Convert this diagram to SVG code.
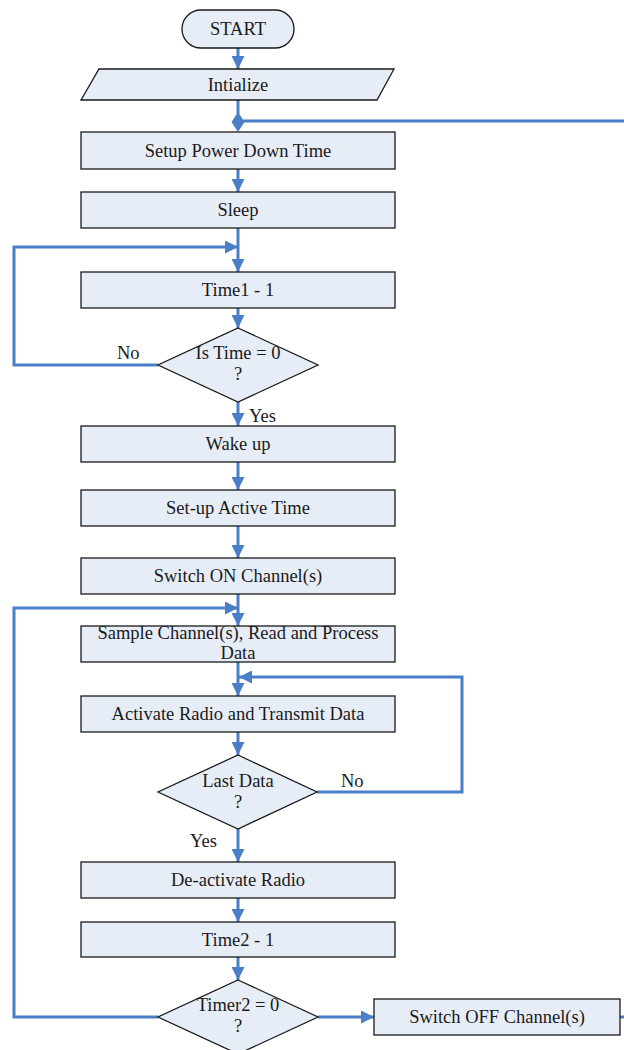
<svg xmlns="http://www.w3.org/2000/svg" width="624" height="1050" viewBox="0 0 624 1050">
<style>
.n{fill:#E7EDF7;stroke:#1a1a1a;stroke-width:1.3}
.t{font-family:"Liberation Serif","Times New Roman",serif;font-size:18.5px;fill:#1a1a1a;text-anchor:middle}
.l{font-family:"Liberation Serif","Times New Roman",serif;font-size:18.5px;fill:#1a1a1a}
.c{fill:none;stroke:#4A7EC7;stroke-width:3}
.h{fill:#4A7EC7}
</style>
<defs>
<marker id="a" markerUnits="userSpaceOnUse" markerWidth="13" markerHeight="13" refX="13" refY="6.5" orient="auto">
<path d="M0,0 L13,6.5 L0,13 z" class="h"/>
</marker>
</defs>
<rect width="624" height="1050" fill="#ffffff"/>
<g id="connectors">
<line class="c" x1="238" y1="48" x2="238" y2="69" marker-end="url(#a)"/>
<line class="c" x1="238" y1="100" x2="238" y2="114"/>
<polygon class="h" points="238,112 244.5,122 238,132 231.5,122"/>
<line class="c" x1="238" y1="121" x2="624" y2="121"/>
<line class="c" x1="238" y1="169" x2="238" y2="192" marker-end="url(#a)"/>
<line class="c" x1="238" y1="228" x2="238" y2="272" marker-end="url(#a)"/>
<polyline class="c" points="158,365 14,365 14,247 238,247" marker-end="url(#a)"/>
<line class="c" x1="238" y1="308" x2="238" y2="328" marker-end="url(#a)"/>
<line class="c" x1="238" y1="402" x2="238" y2="426" marker-end="url(#a)"/>
<line class="c" x1="238" y1="462" x2="238" y2="490" marker-end="url(#a)"/>
<line class="c" x1="238" y1="526" x2="238" y2="558" marker-end="url(#a)"/>
<line class="c" x1="238" y1="594" x2="238" y2="626" marker-end="url(#a)"/>
<polyline class="c" points="158,1017 14,1017 14,608 238,608" marker-end="url(#a)"/>
<line class="c" x1="238" y1="662" x2="238" y2="696" marker-end="url(#a)"/>
<polyline class="c" points="317,792 462,792 462,677 239,677" marker-end="url(#a)"/>
<line class="c" x1="238" y1="732" x2="238" y2="755" marker-end="url(#a)"/>
<line class="c" x1="238" y1="829" x2="238" y2="862" marker-end="url(#a)"/>
<line class="c" x1="238" y1="898" x2="238" y2="922" marker-end="url(#a)"/>
<line class="c" x1="238" y1="957" x2="238" y2="980" marker-end="url(#a)"/>
<line class="c" x1="318" y1="1017" x2="374" y2="1017" marker-end="url(#a)"/>
<line class="c" x1="620" y1="1017" x2="624" y2="1017"/>
<text class="l" x="117" y="359">No</text>
<text class="l" x="249" y="422">Yes</text>
<text class="l" x="341" y="787">No</text>
<text class="l" x="190" y="847">Yes</text>
</g>
<g id="start"><rect class="n" x="182" y="10" width="112" height="38" rx="19"/><text class="t" x="238" y="35">START</text></g>
<g id="init"><polygon class="n" points="99,69 394,69 377,100 81,100"/><text class="t" x="238" y="90.5">Intialize</text></g>
<g id="setup"><rect class="n" x="81" y="132" width="314" height="37"/><text class="t" x="238" y="157">Setup Power Down Time</text></g>
<g id="sleep"><rect class="n" x="81" y="192" width="314" height="36"/><text class="t" x="238" y="216">Sleep</text></g>
<g id="time1"><rect class="n" x="81" y="272" width="314" height="36"/><text class="t" x="238" y="296">Time1 - 1</text></g>
<g id="istime"><polygon class="n" points="238,328 318,365 238,402 158,365"/><text class="t" x="238" y="359">Is Time = 0</text><text class="t" x="238" y="380">?</text></g>
<g id="wake"><rect class="n" x="81" y="426" width="314" height="36"/><text class="t" x="238" y="450">Wake up</text></g>
<g id="active"><rect class="n" x="81" y="490" width="314" height="36"/><text class="t" x="238" y="514">Set-up Active Time</text></g>
<g id="switchon"><rect class="n" x="81" y="558" width="314" height="36"/><text class="t" x="238" y="582">Switch ON Channel(s)</text></g>
<g id="sample"><rect class="n" x="81" y="626" width="314" height="36"/><text class="t" x="238" y="639">Sample Channel(s), Read and Process</text><text class="t" x="238" y="659">Data</text></g>
<g id="radio"><rect class="n" x="81" y="696" width="314" height="36"/><text class="t" x="238" y="720">Activate Radio and Transmit Data</text></g>
<g id="lastdata"><polygon class="n" points="238,755 317,792 238,829 158,792"/><text class="t" x="238" y="787">Last Data</text><text class="t" x="238" y="808">?</text></g>
<g id="deact"><rect class="n" x="81" y="862" width="314" height="36"/><text class="t" x="238" y="886">De-activate Radio</text></g>
<g id="time2"><rect class="n" x="81" y="922" width="314" height="35"/><text class="t" x="238" y="945.5">Time2 - 1</text></g>
<g id="timer2"><polygon class="n" points="238,980 318,1017 238,1054 158,1017"/><text class="t" x="238" y="1011">Timer2 = 0</text><text class="t" x="238" y="1032">?</text></g>
<g id="switchoff"><rect class="n" x="374" y="999" width="246" height="36"/><text class="t" x="497" y="1023">Switch OFF Channel(s)</text></g>
</svg>
